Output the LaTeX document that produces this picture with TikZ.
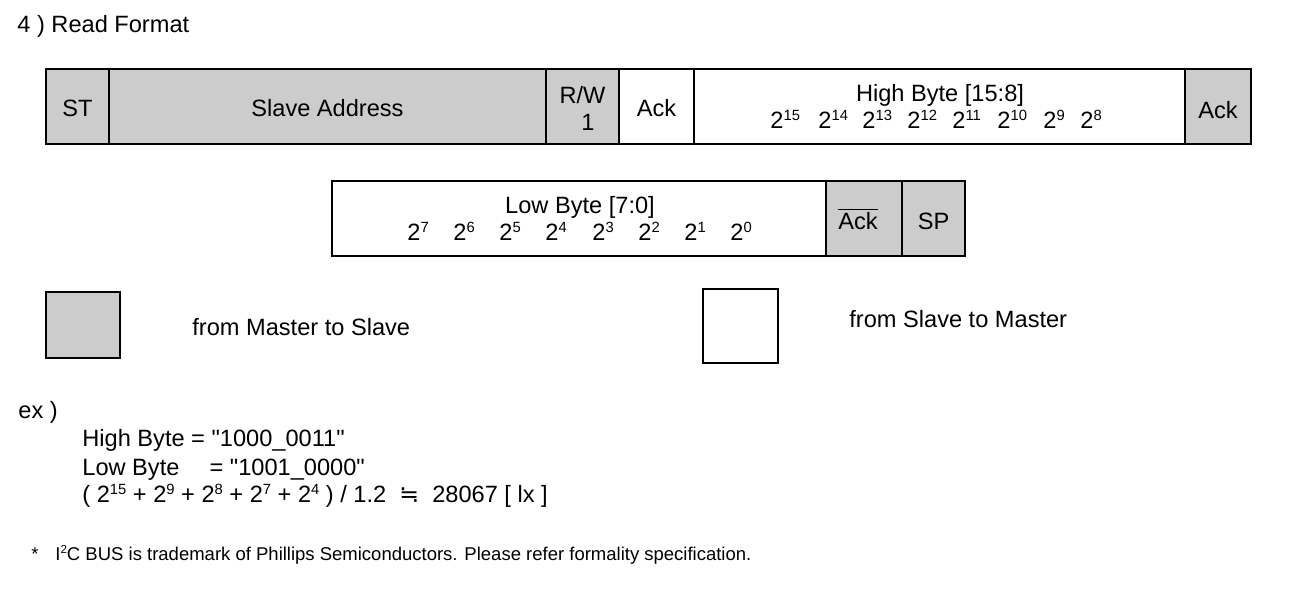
\documentclass[tikz,border=0pt]{standalone}
\usepackage{fontspec}
\setmainfont{Liberation Sans}
\newfontfamily\symfont{DejaVu Sans}
\definecolor{busgray}{HTML}{CCCCCC}
\newcommand\ex[2][7.4]{\raisebox{0.62ex}{\fontsize{#1}{8}\selectfont #2}}
\tikzset{
  field/.style  = { draw, black, line width=1pt },
  master/.style = { field, fill=busgray },
  slave/.style  = { field, fill=white },
  txt/.style    = { inner sep=0pt, anchor=base, font=\fontsize{11.8}{14}\selectfont },
  txtl/.style   = { txt, anchor=base west },
  bit/.style    = { txtl },
  note/.style   = { inner sep=0pt, anchor=base west, font=\fontsize{9.25}{11}\selectfont },
}
\begin{document}
\begin{tikzpicture}[x=0.5pt,y=-0.5pt]
    \useasboundingbox (0,0) rectangle (1306,590);

    % title
    \node[txtl] (title) at (17,32) {4 ) Read Format};

    % first row of the frame
    \draw[master] (46,69) rectangle (109,144);
    \draw[master] (109,69) rectangle (546,144);
    \draw[master] (546,69) rectangle (619,144);
    \draw[slave] (619,69) rectangle (694,144);
    \draw[slave] (694,69) rectangle (1185,144);
    \draw[master] (1185,69) rectangle (1251,144);

    \node[txt] (st) at (77.5,116) {ST};
    \node[txt] (addr) at (327.5,116) {Slave Address};
    \node[txt] (rw) at (582.5,103) {R/W};
    \node[txt] (rwbit) at (588,130) {1};
    \node[txt] (ack1) at (656.5,116) {Ack};
    \node[txt] (high) at (940,101) {High Byte [15:8]};
    \node[txt] (ack2) at (1218,118) {Ack};

    % High Byte bits
    \foreach \x/\e in {770/15, 818/14, 862/13, 907/12, 952/11, 997/10, 1043/9, 1080/8}
        \node[bit] (hb\e) at (\x,128) {2\ex{\e}};

    % second row of the frame
    \draw[slave] (332,181) rectangle (826,256);
    \draw[master] (826,181) rectangle (902,256);
    \draw[master] (902,181) rectangle (965,256);

    \node[txt] (low) at (580,213) {Low Byte [7:0]};
    \node[txt] (nack) at (858,229) {$\overline{\mbox{Ack}}$};
    \node[txt] (sp) at (933.5,229) {SP};

    % Low Byte bits
    \foreach \x/\e in {407/7, 453/6, 499/5, 545/4, 592/3, 638/2, 684/1, 730/0}
        \node[bit] (lb\e) at (\x,240) {2\ex{\e}};

    % legend
    \draw[master] (46,292) rectangle (120,358);
    \node[txtl] (mtos) at (192,335) {from Master to Slave};
    \draw[slave] (703,289) rectangle (778,363);
    \node[txtl] (stom) at (849,327) {from Slave to Master};

    % example
    \node[txtl] (ex) at (18,418) {ex )};
    \node[txtl] (exhigh) at (82,446) {High Byte = \textquotedbl 1000\_0011\textquotedbl};
    \node[txtl] (exlow) at (82,475) {Low Byte\hspace{1em} = \textquotedbl 1001\_0000\textquotedbl};
    \node[txtl] (exsum) at (82,502) {( 2\ex{15} + 2\ex{9} + 2\ex{8} + 2\ex{7} + 2\ex{4} ) / 1.2 \ {\symfont ≒} \ 28067 [ lx ]};

    % footnote
    \node[note] (star) at (31,560) {*};
    \node[note] (foot) at (55,560) {I\ex[5.8]{2}C BUS is trademark of Phillips Semiconductors. Please refer formality specification.};
\end{tikzpicture}
\end{document}
